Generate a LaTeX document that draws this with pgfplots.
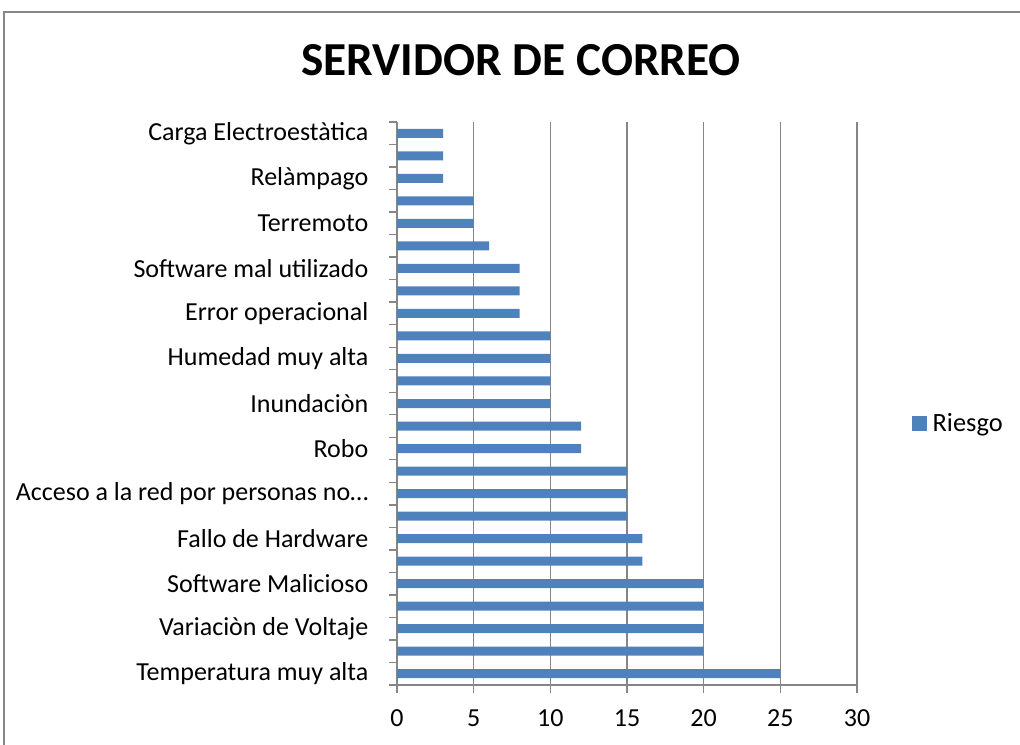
\documentclass[border=0pt]{standalone}
\usepackage{pgfplots}
\pgfplotsset{compat=1.18}
\usepackage{fontspec}
\setmainfont{Carlito}
\definecolor{barblue}{HTML}{4F81BD}
\definecolor{axgray}{HTML}{868686}
\begin{document}
\begin{tikzpicture}
\useasboundingbox (0,0) rectangle (765pt,558pt);
\draw[axgray,line width=1.2pt] (3pt,-5pt) -- (3pt,549pt) -- (775pt,549pt);
\node[anchor=base,font=\bfseries\fontsize{35.5}{40}\selectfont] at (390.75pt,501pt) {SERVIDOR DE CORREO};
\begin{axis}[
  at={(297.75pt,44.25pt)}, anchor=south west,
  scale only axis, width=345pt, height=422.25pt,
  xmin=0, xmax=30, ymin=-0.5, ymax=24.5,
  axis x line=bottom, axis y line=left,
  axis line style={-, axgray, line width=1pt},
  xtick={0,5,...,30},
  xmajorgrids, grid style={axgray, line width=1pt},
  tick align=outside,
  major tick length=6pt, minor tick length=6pt,
  tick style={axgray, line width=1pt},
  ytick={0,2,...,24},
  yticklabels={Temperatura muy alta, Variaciòn de Voltaje, Software Malicioso, Fallo de Hardware, Acceso a la red por personas no…, Robo, Inundaciòn, Humedad muy alta, Error operacional, Software mal utilizado, Terremoto, Relàmpago, Carga Electroestàtica},
  minor ytick={-0.5,0.5,...,24.5},
  major y tick style={draw=none},
  minor y tick style={axgray, line width=1pt},
  ticklabel style={font=\fontsize{19.5}{23}\selectfont},
  yticklabel style={xshift=-12pt},
  xticklabel style={yshift=-9pt},
  /pgf/number format/assume math mode=true,
  xbar, bar width=6.75pt,
  legend style={at={(1.221,0.465)}, anchor=center, draw=none, font=\fontsize{19.8}{23}\selectfont},
  legend image code/.code={\fill[#1] (0pt,-5.5pt) rectangle (11pt,5.5pt);},
]
\addplot[fill=barblue, draw=none] coordinates {
(25,0) (20,1) (20,2) (20,3) (20,4) (16,5) (16,6) (15,7) (15,8) (15,9)
(12,10) (12,11) (10,12) (10,13) (10,14) (10,15) (8,16) (8,17) (8,18)
(6,19) (5,20) (5,21) (3,22) (3,23) (3,24)
};
\addlegendentry{\hspace{2.5pt}Riesgo}
\end{axis}
\end{tikzpicture}
\end{document}
